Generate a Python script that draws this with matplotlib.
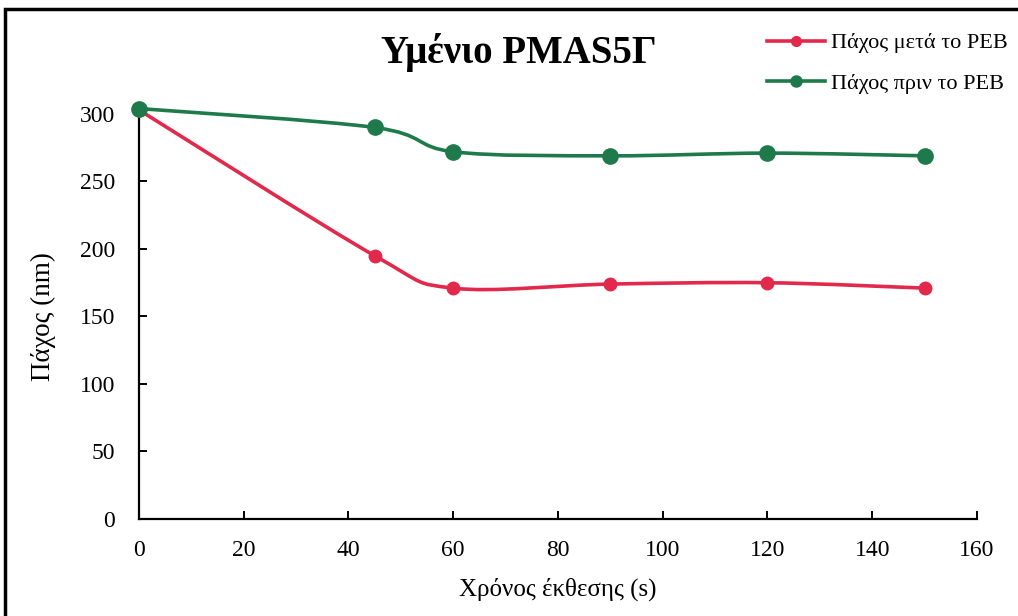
import numpy as np
import matplotlib
matplotlib.use("Agg")
import matplotlib.pyplot as plt
from matplotlib.path import Path
from matplotlib.patches import PathPatch, Rectangle
from matplotlib.lines import Line2D

plt.rcParams["font.family"] = ["Liberation Serif", "DejaVu Serif"]

# data
time_s = [0, 45, 60, 90, 120, 150]
after_peb = [303, 195, 171, 174, 175, 171]
before_peb = [304, 290, 272, 269, 271, 269]
x_ticks = [0, 20, 40, 60, 80, 100, 120, 140, 160]
y_ticks = [0, 50, 100, 150, 200, 250, 300]

RED = "#E2294B"
GREEN = "#1F7A4B"


def smooth_path(xs, ys):
    # Excel-like smoothed line: Catmull-Rom segments as cubic Beziers
    pts = np.column_stack([xs, ys]).astype(float)
    n = len(pts)
    verts = [pts[0]]
    codes = [Path.MOVETO]
    for i in range(n - 1):
        p0 = pts[i - 1] if i > 0 else pts[i]
        p1 = pts[i]
        p2 = pts[i + 1]
        p3 = pts[i + 2] if i + 2 < n else pts[i + 1]
        c1 = p1 + (p2 - p0) / 6.0
        c2 = p2 - (p3 - p1) / 6.0
        verts += [c1, c2, p2]
        codes += [Path.CURVE4] * 3
    return Path(verts, codes)


fig = plt.figure(figsize=(10.18, 6.16), dpi=100)
ax = fig.add_axes([0.1365, 0.1575, 0.8232, 0.6575])

for ys, col, ms in [(after_peb, RED, 9), (before_peb, GREEN, 11)]:
    ax.add_patch(PathPatch(smooth_path(time_s, ys), facecolor="none",
                           edgecolor=col, lw=2.6, clip_on=False, zorder=3))
    ax.plot(time_s, ys, "o", color=col, ms=ms, clip_on=False, zorder=4)

ax.set_xlim(0, 160)
ax.set_ylim(0, 300)
ax.set_xticks(x_ticks)
ax.set_yticks(y_ticks)
for s in ["top", "right"]:
    ax.spines[s].set_visible(False)
for s in ["left", "bottom"]:
    ax.spines[s].set_linewidth(1.6)
ax.tick_params(direction="in", length=6, width=1.4, labelsize=17)
ax.tick_params(axis="y", pad=17)
ax.tick_params(axis="x", pad=15)

ax.set_xlabel("Χρόνος έκθεσης (s)", fontsize=18, labelpad=12)
ax.set_ylabel("Πάχος (nm)", fontsize=19.5, labelpad=17)

fig.text(0.51, 0.915, "Υμένιο PMAS5Γ", ha="center", va="center",
         fontsize=28, fontweight="bold")

handles = [Line2D([], [], color=RED, lw=2.6, marker="o", ms=7),
           Line2D([], [], color=GREEN, lw=2.6, marker="o", ms=8)]
fig.legend(handles, ["Πάχος μετά το PEB", "Πάχος πριν το PEB"],
           loc="upper left", bbox_to_anchor=(0.734, 0.979), frameon=False,
           fontsize=16, handlelength=2.6, handletextpad=0.25, labelspacing=0.9)

# outer chart frame
fig.patches.append(Rectangle((5 / 1018, -0.05), 1.2, 1 - 9 / 616 + 0.05,
                             transform=fig.transFigure, fill=False,
                             edgecolor="black", lw=2.5))

fig.savefig("out.png", dpi=100)
